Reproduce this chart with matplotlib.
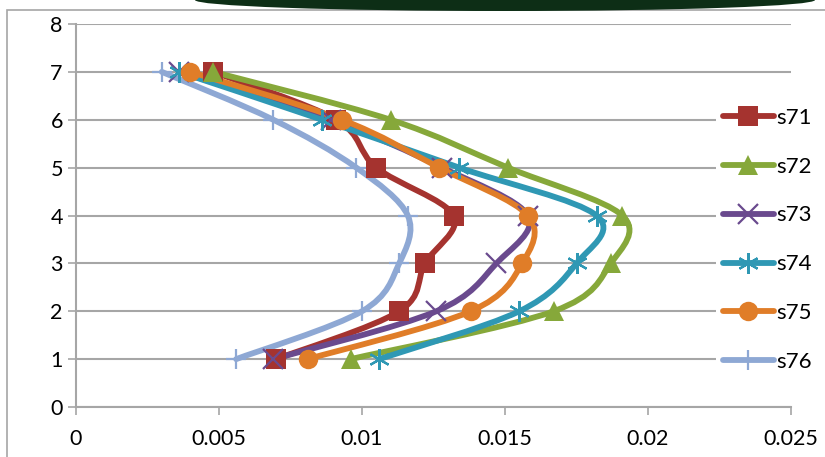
import matplotlib.pyplot as plt
from matplotlib.path import Path
from matplotlib.patches import PathPatch, Rectangle, Ellipse
from matplotlib.lines import Line2D

# depth levels (y) and values per series (x)
levels = [7, 6, 5, 4, 3, 2, 1]
s71 = [0.0048, 0.0091, 0.0105, 0.0132, 0.0122, 0.0113, 0.0070]
s72 = [0.0048, 0.0110, 0.0151, 0.0191, 0.0187, 0.0167, 0.0096]
s73 = [0.0036, 0.0089, 0.0128, 0.0158, 0.0147, 0.0126, 0.0069]
s74 = [0.0036, 0.0086, 0.0134, 0.0182, 0.0175, 0.0155, 0.0106]
s75 = [0.0040, 0.0093, 0.0127, 0.0158, 0.0156, 0.0138, 0.0081]
s76 = [0.0030, 0.0069, 0.0098, 0.0116, 0.0113, 0.0100, 0.0056]

names = ["s71", "s72", "s73", "s74", "s75", "s76"]
series = [s71, s72, s73, s74, s75, s76]
colors = ["#A5332F", "#86A83A", "#6A4A8E", "#2F98B4", "#E07D28", "#8EA8D4"]
markers = ["s", "^", "x", "*", "o", "+"]

plt.rcParams['font.family'] = ['Lato', 'DejaVu Sans']

fig = plt.figure(figsize=(8.25, 4.57), dpi=100)
ax = fig.add_axes([76/825, 50/457, 715/825, 383/457])


def smooth_path(xs, ys):
    # Excel-like smoothed line: cubic bezier with 1/6 tangents
    pts = list(zip(xs, ys))
    n = len(pts)
    verts = [pts[0]]
    codes = [Path.MOVETO]
    for i in range(n - 1):
        p0 = pts[i - 1] if i > 0 else pts[i]
        p1 = pts[i]
        p2 = pts[i + 1]
        p3 = pts[i + 2] if i + 2 < n else pts[i + 1]
        c1 = (p1[0] + (p2[0] - p0[0]) / 6, p1[1] + (p2[1] - p0[1]) / 6)
        c2 = (p2[0] - (p3[0] - p1[0]) / 6, p2[1] - (p3[1] - p1[1]) / 6)
        verts += [c1, c2, p2]
        codes += [Path.CURVE4] * 3
    return Path(verts, codes)


LW = 4.2
handles = []
for name, xs, c, m in zip(names, series, colors, markers):
    ax.add_patch(PathPatch(smooth_path(xs, levels), fill=False, edgecolor=c,
                           lw=LW, zorder=3, capstyle='round'))
    if m in ("x", "+"):
        kw = dict(marker=m, ms=14, mew=1.6)
    elif m == "*":
        kw = dict(marker=(6, 2, 0), ms=15, mew=1.6)
    else:
        kw = dict(marker=m, ms=14, mew=0)
    ax.plot(xs, levels, ls='none', color=c, zorder=4, **kw)
    handles.append(Line2D([], [], color=c, lw=LW, solid_capstyle='round', **kw))

ax.set_xlim(0, 0.025)
ax.set_ylim(0, 8)
ax.set_xticks([0, 0.005, 0.01, 0.015, 0.02, 0.025])
ax.set_xticklabels(["0", "0.005", "0.01", "0.015", "0.02", "0.025"])
ax.set_yticks(range(9))
ax.yaxis.grid(True, color="#A6A6A6", lw=1.5)
ax.set_axisbelow(True)
for s in ("top", "right"):
    ax.spines[s].set_visible(False)
for s in ("left", "bottom"):
    ax.spines[s].set_color("#A6A6A6")
    ax.spines[s].set_linewidth(1.5)
ax.tick_params(colors="#A6A6A6", labelcolor="black", labelsize=15.5, length=6, width=1.2)
ax.tick_params(axis='x', pad=10)

leg = ax.legend(handles, names, loc='upper left', bbox_to_anchor=(640/715, 1 - 77/383),
                frameon=True, edgecolor='none', facecolor='white', framealpha=1,
                fontsize=16, handlelength=2.3, handletextpad=0.1, labelspacing=1.3,
                borderpad=0.3, borderaxespad=0)
leg.set_zorder(10)

# outer chart border and decoration at the top
fig.patches.append(Rectangle((7/825, -0.1), 1.2, 1 - 10/457 + 0.1, transform=fig.transFigure,
                             fill=False, edgecolor="#A6A6A6", lw=1.2))
fig.patches.append(Ellipse((505/825, 1.0), 620/825, 22/457, transform=fig.transFigure,
                           facecolor="#0D2E16", edgecolor='none'))

fig.savefig("out.png", dpi=100)
